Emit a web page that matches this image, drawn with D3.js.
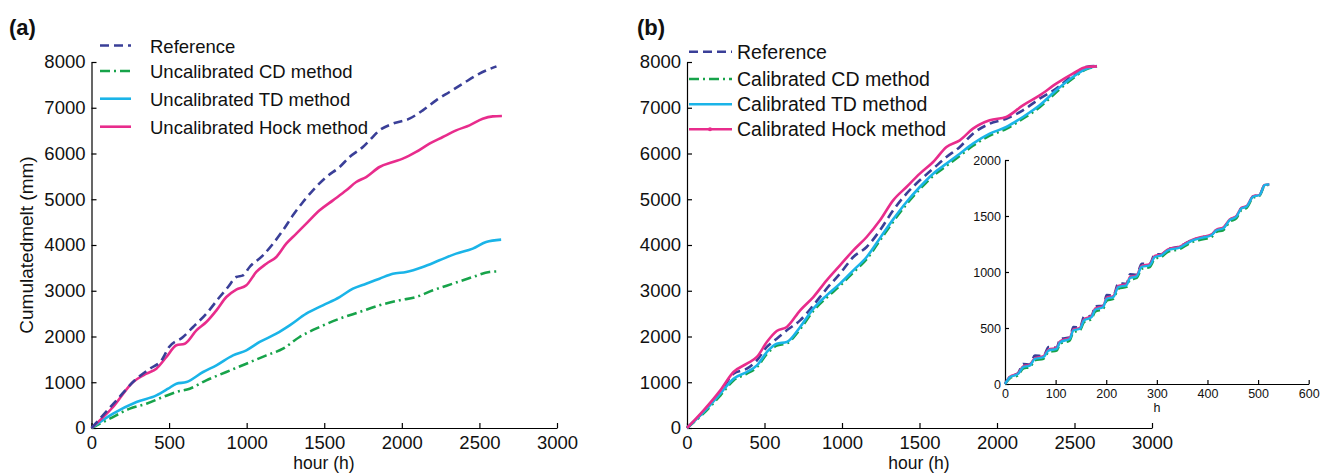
<!DOCTYPE html>
<html><head><meta charset="utf-8">
<script src="https://cdn.jsdelivr.net/npm/d3@7/dist/d3.min.js"></script>
<style>
body{margin:0;background:#fff;}
svg{display:block;font-family:"Liberation Sans",Arial,Helvetica,sans-serif;}
</style></head>
<body><svg id="c" width="1328" height="473"></svg>
<script>
// ---------- DATA ----------
const xTicksMain = [0,500,1000,1500,2000,2500,3000];
const yTicksMain = [0,1000,2000,3000,4000,5000,6000,7000,8000];
const xTicksInset = [0,100,200,300,400,500,600];
const yTicksInset = [0,500,1000,1500,2000];

const seriesNamesA = ["Reference","Uncalibrated CD method","Uncalibrated TD method","Uncalibrated Hock method"];
const seriesNamesB = ["Reference","Calibrated CD method","Calibrated TD method","Calibrated Hock method"];

// Panel (a)
const aRefHours = [0,161,279,376,451,500,590,655,740,826,880,933,976,1019,1105,1170,1234,1298,1363,1427,1513,1599,1663,1749,1792,1856,1942,2049,2135,2221,2307,2393,2500,2610];
const aRefMelt  = [0,605,1042,1297,1479,1770,1989,2208,2499,2863,3082,3300,3337,3519,3774,4029,4321,4648,4940,5195,5486,5705,5923,6142,6288,6506,6652,6761,6943,7162,7344,7526,7745,7905];
const aCDHours = [0,118,247,354,461,547,633,740,869,998,1127,1234,1341,1470,1599,1728,1856,1985,2092,2200,2328,2457,2564,2630];
const aCDMelt  = [0,204,423,532,678,787,860,1042,1224,1406,1588,1734,1989,2208,2390,2536,2681,2791,2863,3009,3155,3300,3410,3424];
const aTDHours = [0,139,290,418,494,547,612,719,805,912,998,1084,1191,1277,1384,1491,1599,1685,1770,1856,1942,2028,2135,2242,2350,2457,2543,2640];
const aTDMelt  = [0,313,568,714,860,969,1005,1224,1370,1588,1698,1880,2062,2244,2499,2681,2863,3046,3155,3264,3373,3410,3519,3665,3811,3920,4066,4117];
const aHockHours = [0,139,268,354,418,483,547,601,676,740,805,869,933,998,1062,1127,1191,1255,1320,1384,1470,1556,1642,1706,1770,1856,1942,2006,2092,2178,2264,2350,2436,2521,2586,2645];
const aHockMelt  = [0,459,1005,1188,1297,1552,1807,1843,2135,2317,2572,2863,3024,3118,3410,3592,3738,4029,4248,4466,4758,4976,5195,5377,5486,5705,5814,5887,6033,6215,6361,6506,6616,6761,6812,6820];

// Panel (b)
const bHours    = [0,107,215,300,386,451,515,579,644,730,815,901,987,1073,1159,1245,1330,1416,1502,1588,1674,1760,1845,1953,2060,2167,2275,2382,2489,2575,2645];
const bRefMelt  = [0,360,780,1188,1297,1479,1771,1953,2135,2353,2681,3046,3373,3738,3956,4321,4758,5122,5414,5668,5923,6142,6433,6652,6761,6943,7198,7417,7708,7891,7913];
const bCDMelt   = [0,320,710,1040,1190,1330,1620,1800,1850,2160,2560,2850,3110,3400,3690,4100,4510,4890,5220,5510,5730,5950,6170,6390,6540,6760,7010,7340,7640,7840,7905];
const bTDMelt   = [0,350,751,1079,1224,1370,1661,1843,1880,2208,2608,2900,3155,3446,3738,4150,4560,4940,5268,5559,5778,5996,6215,6433,6579,6798,7053,7381,7672,7854,7910];
const bHockMelt = [0,386,823,1224,1406,1552,1880,2120,2208,2572,2863,3228,3556,3883,4175,4539,4976,5268,5559,5814,6142,6288,6543,6725,6798,7053,7271,7526,7745,7891,7905];

// Inset (first ~520 h)
const iHours    = [0,10,26,36,49,59,76,86,102,109,128,135,148,156,171,178,194,201,214,224,240,247,260,270,286,296,309,322,345,359,372,391,408,418,431,444,457,467,477,490,503,513,522];
const iRefMelt  = [0,65,100,180,175,255,250,330,325,405,415,510,505,600,610,695,700,795,790,900,895,980,975,1075,1075,1160,1160,1205,1228,1262,1290,1312,1333,1378,1393,1465,1495,1570,1585,1675,1690,1778,1782];
const iCDMelt   = [0,52,78,138,150,210,225,285,298,358,388,462,478,550,580,645,670,744,760,850,866,930,946,1028,1044,1118,1134,1180,1205,1240,1270,1292,1312,1358,1372,1448,1478,1552,1570,1662,1680,1770,1780];
const iTDMelt   = [0,60,90,150,164,224,239,299,313,373,403,478,493,567,597,663,687,761,776,866,881,946,961,1045,1060,1134,1149,1194,1218,1254,1284,1307,1328,1373,1388,1463,1493,1567,1582,1672,1687,1776,1782];
const iHockMelt = [0,65,95,158,172,232,248,308,322,382,412,487,502,577,607,673,697,771,786,876,891,956,971,1055,1070,1144,1158,1203,1226,1262,1292,1315,1336,1380,1396,1470,1500,1573,1588,1676,1690,1778,1782];

// ---------- STYLE ----------
const COL = {ref:"#3a3f98", cd:"#17a34a", td:"#1ab4e8", hock:"#e82c8c"};
const DASH = {ref:"9,5", cd:"10,4,2,4", td:null, hock:null};
const FONT = "\"Liberation Sans\",Arial,Helvetica,sans-serif";

const svg = d3.select("#c");
const zip = (xs, ys) => xs.map((x,i)=>[x, ys[i]]);

function panel(cfg){
  const x = d3.scaleLinear().domain(cfg.xd).range(cfg.xr);
  const y = d3.scaleLinear().domain(cfg.yd).range(cfg.yr);
  const g = svg.append("g");
  const xa = g.append("g").attr("transform",`translate(0,${cfg.yr[0]})`)
    .call(d3.axisBottom(x).tickValues(cfg.xt).tickFormat(d3.format("d")).tickSizeInner(-cfg.tick).tickSizeOuter(0).tickPadding(cfg.xpad));
  const ya = g.append("g").attr("transform",`translate(${cfg.xr[0]},0)`)
    .call(d3.axisLeft(y).tickValues(cfg.yt).tickFormat(d3.format("d")).tickSizeInner(-cfg.tick).tickSizeOuter(0).tickPadding(cfg.ypad));
  [xa,ya].forEach(a=>{
    a.selectAll("text").style("font-size",cfg.fs+"px").style("font-family",FONT).attr("fill","#111");
    a.selectAll("line,path").attr("stroke","#000").attr("stroke-width",1.2);
  });
  const line = d3.line().x(d=>x(d[0])).y(d=>y(d[1])).curve(d3.curveMonotoneX);
  cfg.series.forEach(s=>{
    g.append("path").datum(s.data).attr("d",line).attr("fill","none")
      .attr("stroke",COL[s.k]).attr("stroke-width",cfg.lw)
      .attr("stroke-dasharray",DASH[s.k]).attr("stroke-linejoin","round");
  });
  return {x,y,g};
}

// Panel (a)
panel({xd:[0,3000], xr:[91.5,557], yd:[0,8000], yr:[428,62], xt:xTicksMain, yt:yTicksMain,
  tick:5, xpad:8, ypad:6, fs:18.5, lw:2.6,
  series:[
    {k:"cd", data:zip(aCDHours,aCDMelt)},
    {k:"td", data:zip(aTDHours,aTDMelt)},
    {k:"hock", data:zip(aHockHours,aHockMelt)},
    {k:"ref", data:zip(aRefHours,aRefMelt)}
  ]});

// Panel (b)
panel({xd:[0,3000], xr:[687,1152], yd:[0,8000], yr:[428,62], xt:xTicksMain, yt:yTicksMain,
  tick:5, xpad:8, ypad:6, fs:18.5, lw:2.6,
  series:[
    {k:"ref", data:zip(bHours,bRefMelt)},
    {k:"cd", data:zip(bHours,bCDMelt)},
    {k:"td", data:zip(bHours,bTDMelt)},
    {k:"hock", data:zip(bHours,bHockMelt)}
  ]});

// Inset
svg.append("rect").attr("x",1006).attr("y",150).attr("width",310).attr("height",233).attr("fill","#fff");
panel({xd:[0,600], xr:[1005,1308.7], yd:[0,2000], yr:[384,160], xt:xTicksInset, yt:yTicksInset,
  tick:4, xpad:5, ypad:4, fs:12.5, lw:2.4,
  series:[
    {k:"ref", data:zip(iHours,iRefMelt)},
    {k:"cd", data:zip(iHours,iCDMelt)},
    {k:"hock", data:zip(iHours,iHockMelt)},
    {k:"td", data:zip(iHours,iTDMelt)}
  ]});

// Axis labels
const txt = (x,y,s,fs,extra)=>{
  const t = svg.append("text").attr("x",x).attr("y",y).text(s).style("font-size",fs+"px").style("font-family",FONT).attr("fill","#111");
  if(extra) extra(t);
  return t;
};
txt(324,469,"hour (h)",17.5,t=>t.attr("text-anchor","middle"));
txt(919,469,"hour (h)",17.5,t=>t.attr("text-anchor","middle"));
txt(1157,412,"h",12.5,t=>t.attr("text-anchor","middle"));
svg.append("text").attr("transform","translate(33,245) rotate(-90)").attr("text-anchor","middle")
  .text("Cumulatedmelt (mm)").style("font-size","19px").style("font-family",FONT).attr("fill","#111");
txt(9,35,"(a)",22,t=>t.style("font-weight","bold"));
txt(637,35,"(b)",22,t=>t.style("font-weight","bold"));

// Legends
function legend(names, keys, x0, x1, tx, ys, fs){
  names.forEach((n,i)=>{
    const k = keys[i];
    svg.append("line").attr("x1",x0).attr("x2",x1).attr("y1",ys[i]).attr("y2",ys[i])
      .attr("stroke",COL[k]).attr("stroke-width",2.6).attr("stroke-dasharray",DASH[k]);
    txt(tx, ys[i]+7, n, fs);
  });
}
const keys = ["ref","cd","td","hock"];
legend(seriesNamesA, keys, 100, 131, 150, [45.5,71,98.7,126.7], 18.5);
legend(seriesNamesB, keys, 689, 732, 737, [51.7,79,104.3,129.3], 19.5);
svg.append("circle").attr("cx",710).attr("cy",129.3).attr("r",2).attr("fill",COL.hock);
</script></body></html>
